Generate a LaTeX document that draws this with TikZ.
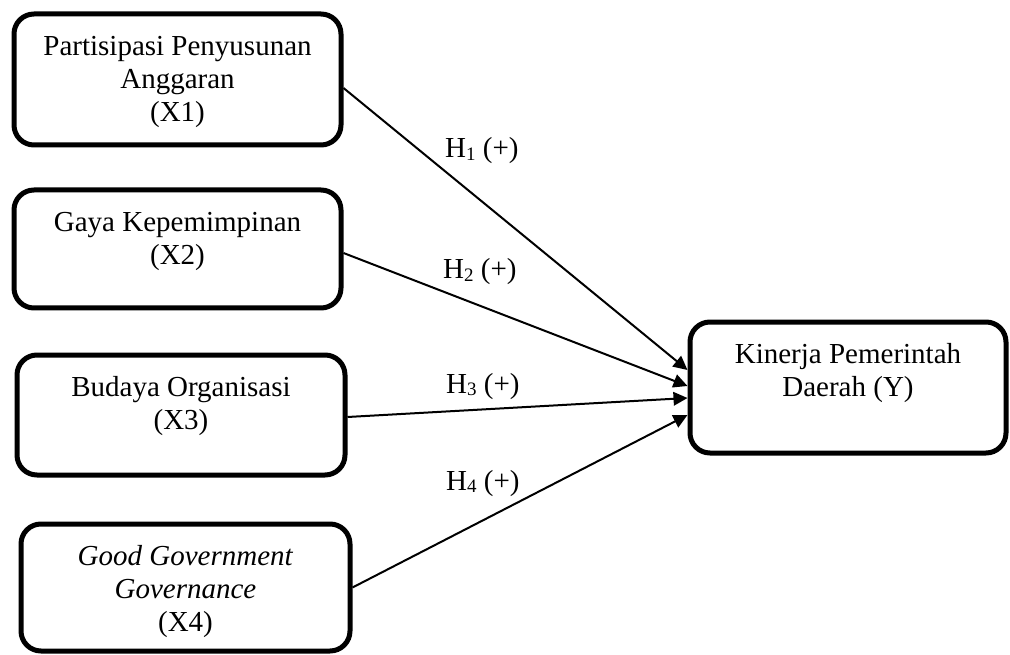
\documentclass[tikz,border=0pt]{standalone}
\usepackage{fontspec}
\setmainfont{Liberation Serif}
\usetikzlibrary{arrows.meta}
\tikzset{
  box/.style={draw=black, line width=5pt, rounded corners=20pt, fill=white, inner sep=0pt},
  txt/.style={anchor=north, align=center, inner sep=0pt, font=\fontsize{29}{33}\selectfont},
  lab/.style={anchor=base west, inner sep=0pt, font=\fontsize{29}{33}\selectfont},
  arr/.style={draw=black, line width=2pt, -{Triangle[length=14pt,width=13.5pt]}}
}
\newcommand{\hsub}[1]{\raisebox{-0.08em}{\fontsize{19}{19}\selectfont #1}}
\begin{document}
\begin{tikzpicture}[x=1pt,y=-1pt]
\useasboundingbox (0,0) rectangle (1010,655);
% boxes
\node[box, minimum width=327pt, minimum height=131pt] (x1) at (177.5,79.5) {};
\node[box, minimum width=327pt, minimum height=118pt] (x2) at (177.5,249) {};
\node[box, minimum width=328pt, minimum height=120pt] (x3) at (181,415) {};
\node[box, minimum width=329pt, minimum height=127pt] (x4) at (185.5,587.5) {};
\node[box, minimum width=316pt, minimum height=131pt] (ky) at (848,387.5) {};
% texts
\node[txt] (t1) at ([yshift=-21pt]x1.north) {\strut Partisipasi Penyusunan\\Anggaran\\(X1)};
\node[txt] (t2) at ([yshift=-21pt]x2.north) {\strut Gaya Kepemimpinan\\(X2)};
\node[txt] (t3) at ([yshift=-21pt]x3.north) {\strut Budaya Organisasi\\(X3)};
\node[txt] (t4) at ([yshift=-21pt]x4.north) {\strut\textit{Good Government}\\\textit{Governance}\\(X4)};
\node[txt] (ty) at ([yshift=-21pt]ky.north) {\strut Kinerja Pemerintah\\Daerah (Y)};
% arrows
\draw[arr] ([yshift=-8.5pt]x1.east) -- ([yshift=17.5pt]ky.west);
\draw[arr] ([yshift=-4pt]x2.east) -- ([yshift=1.5pt]ky.west);
\draw[arr] ([yshift=-2pt]x3.east) -- ([yshift=-10.5pt]ky.west);
\draw[arr] (x4.east) -- ([yshift=-27.5pt]ky.west);
% labels
\node[lab] (h1) at (445,158) {H\hsub{1} (+)};
\node[lab] (h2) at (443,279) {H\hsub{2} (+)};
\node[lab] (h3) at (446,393) {H\hsub{3} (+)};
\node[lab] (h4) at (446,490) {H\hsub{4} (+)};
\end{tikzpicture}
\end{document}
